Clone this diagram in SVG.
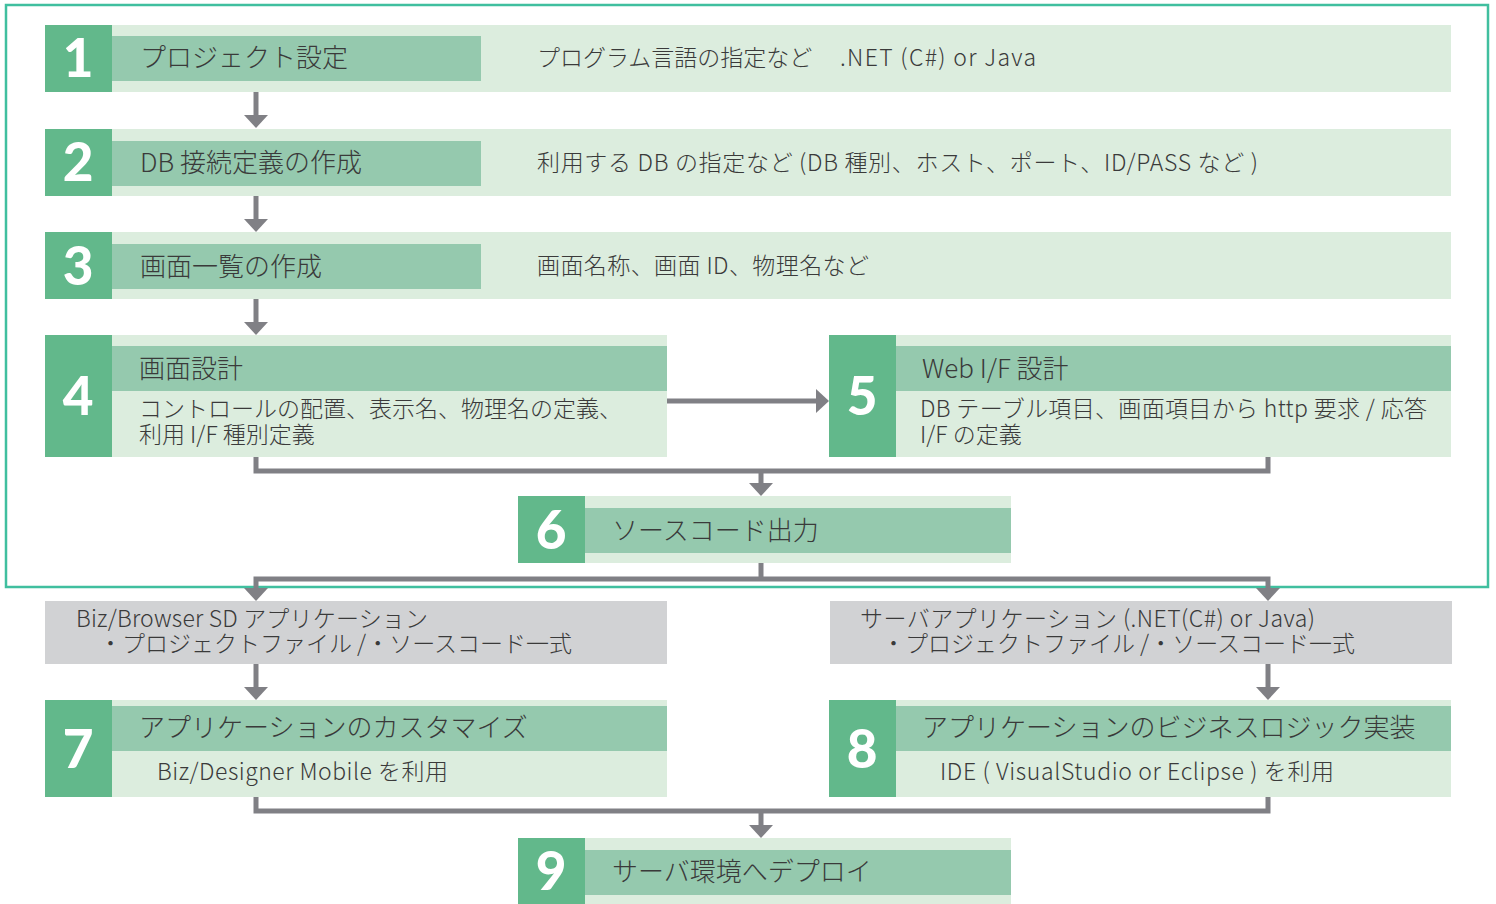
<svg xmlns="http://www.w3.org/2000/svg" width="1496" height="904" viewBox="0 0 1496 904">
<defs>
<style>
.sq{fill:#62b88b}
.bar{fill:#95c9ae}
.band{fill:#dcedde}
.gray{fill:#d1d2d4}
.t{font-family:"Noto Sans CJK JP","Noto Sans",sans-serif;fill:#3a3a3a;font-weight:300}
.tt{font-size:26px}
.td{font-size:23px}
.num{font-family:Lato,"DejaVu Sans",sans-serif;font-weight:900;font-size:53px;fill:#ffffff;text-anchor:middle}
.conn{stroke:#808085;stroke-width:5;fill:none;stroke-linejoin:miter}
</style>
<marker id="ah" viewBox="0 0 13 24" markerWidth="13" markerHeight="24" refX="5" refY="12" orient="auto-start-reverse" markerUnits="userSpaceOnUse">
<path d="M0,0 L13,12 L0,24 Z" fill="#808085"/>
</marker>
</defs>
<rect x="0" y="0" width="1496" height="904" fill="#ffffff"/>
<rect id="frame" x="6" y="5" width="1482" height="582" fill="none" stroke="#40bf9f" stroke-width="2.5"/>

<g id="node1">
<rect class="band" x="45" y="25" width="1406" height="67"/>
<rect class="sq" x="45" y="25" width="67" height="67"/>
<rect class="bar" x="112" y="36" width="369" height="45"/>
<text class="num" x="78" y="77">1</text>
<text class="t tt" x="140" y="67">プロジェクト設定</text>
<text class="t td" x="537" y="65.7">プログラム言語の指定など　<tspan x="840" textLength="196" lengthAdjust="spacing">.NET (C#) or Java</tspan></text>
</g>

<g id="node2">
<rect class="band" x="45" y="129" width="1406" height="67"/>
<rect class="sq" x="45" y="129" width="67" height="67"/>
<rect class="bar" x="112" y="141" width="369" height="45"/>
<text class="num" x="78" y="181">2</text>
<text class="t tt" x="140" y="172">DB 接続定義の作成</text>
<text class="t td" x="537" y="171" textLength="721" lengthAdjust="spacing">利用する DB の指定など (DB 種別、ホスト、ポート、ID/PASS など )</text>
</g>

<g id="node3">
<rect class="band" x="45" y="232" width="1406" height="67"/>
<rect class="sq" x="45" y="232" width="67" height="67"/>
<rect class="bar" x="112" y="244" width="369" height="45"/>
<text class="num" x="78" y="284.5">3</text>
<text class="t tt" x="140" y="275.5">画面一覧の作成</text>
<text class="t td" x="537" y="274" textLength="332" lengthAdjust="spacing">画面名称、画面 ID、物理名など</text>
</g>

<g id="node4">
<rect class="band" x="45" y="335" width="622" height="122"/>
<rect class="sq" x="45" y="335" width="67" height="122"/>
<rect class="bar" x="112" y="346" width="555" height="45"/>
<text class="num" x="78" y="415">4</text>
<text class="t tt" x="139" y="378">画面設計</text>
<text class="t td" x="139" y="416.7">コントロールの配置、表示名、物理名の定義、</text>
<text class="t td" x="139" y="442.7">利用 I/F 種別定義</text>
</g>

<g id="node5">
<rect class="band" x="829" y="335" width="622" height="122"/>
<rect class="sq" x="829" y="335" width="67" height="122"/>
<rect class="bar" x="896" y="346" width="555" height="45"/>
<text class="num" x="862" y="415">5</text>
<text class="t tt" x="922" y="378">Web I/F 設計</text>
<text class="t td" x="920" y="416.7" textLength="507" lengthAdjust="spacing">DB テーブル項目、画面項目から http 要求 / 応答</text>
<text class="t td" x="920" y="442.7">I/F の定義</text>
</g>

<g id="node6">
<rect class="band" x="518" y="496" width="493" height="67"/>
<rect class="sq" x="518" y="496" width="67" height="67"/>
<rect class="bar" x="585" y="508" width="426" height="45"/>
<text class="num" x="551" y="548.5">6</text>
<text class="t tt" x="612" y="540">ソースコード出力</text>
</g>

<g id="out-client">
<rect class="gray" x="45" y="601" width="622" height="63"/>
<text class="t td" x="76" y="626.7" textLength="352" lengthAdjust="spacing">Biz/Browser SD アプリケーション</text>
<text class="t td" x="99" y="651.7">・プロジェクトファイル /・ソースコード一式</text>
</g>

<g id="out-server">
<rect class="gray" x="830" y="601" width="622" height="63"/>
<text class="t td" x="860" y="626.7" textLength="455" lengthAdjust="spacing">サーバアプリケーション (.NET(C#) or Java)</text>
<text class="t td" x="882" y="651.7">・プロジェクトファイル /・ソースコード一式</text>
</g>

<g id="node7">
<rect class="band" x="45" y="700" width="622" height="97"/>
<rect class="sq" x="45" y="700" width="67" height="97"/>
<rect class="bar" x="112" y="706" width="555" height="45"/>
<text class="num" x="78" y="767.5">7</text>
<text class="t tt" x="139" y="737">アプリケーションのカスタマイズ</text>
<text class="t td" x="157" y="779.7" textLength="291" lengthAdjust="spacing">Biz/Designer Mobile を利用</text>
</g>

<g id="node8">
<rect class="band" x="829" y="700" width="622" height="97"/>
<rect class="sq" x="829" y="700" width="67" height="97"/>
<rect class="bar" x="896" y="706" width="555" height="45"/>
<text class="num" x="862" y="767.5">8</text>
<text class="t tt" x="922" y="737">アプリケーションのビジネスロジック実装</text>
<text class="t td" x="940" y="779.7" textLength="394" lengthAdjust="spacing">IDE ( VisualStudio or Eclipse ) を利用</text>
</g>

<g id="node9">
<rect class="band" x="518" y="838" width="493" height="70"/>
<rect class="sq" x="518" y="838" width="67" height="70"/>
<rect class="bar" x="585" y="850" width="426" height="45"/>
<text class="num" x="551" y="890">9</text>
<text class="t tt" x="612" y="881">サーバ環境へデプロイ</text>
</g>

<g id="connectors">
<path class="conn" d="M256,92 V120" marker-end="url(#ah)"/>
<path class="conn" d="M256,196 V224" marker-end="url(#ah)"/>
<path class="conn" d="M256,299 V327" marker-end="url(#ah)"/>
<path class="conn" d="M667,401 H821" marker-end="url(#ah)"/>
<path class="conn" d="M256,457 V471 H1268 V457"/>
<path class="conn" d="M761,471 V488" marker-end="url(#ah)"/>
<path class="conn" d="M761,563 V579"/>
<path class="conn" d="M256,593 V579 H1268 V593" marker-start="url(#ah)" marker-end="url(#ah)"/>
<path class="conn" d="M256,664 V692" marker-end="url(#ah)"/>
<path class="conn" d="M1268,664 V692" marker-end="url(#ah)"/>
<path class="conn" d="M256,797 V811 H1268 V797"/>
<path class="conn" d="M761,811 V830" marker-end="url(#ah)"/>
</g>
</svg>
